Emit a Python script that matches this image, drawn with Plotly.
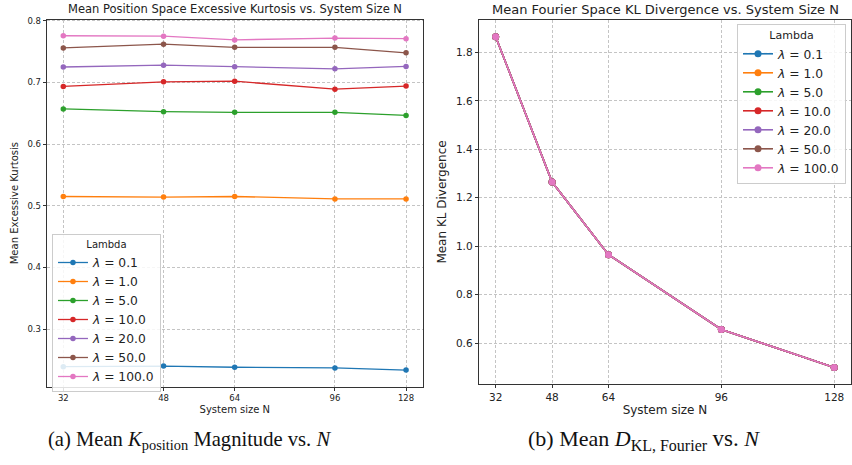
import plotly.graph_objects as go

N = [32, 48, 64, 96, 128]
lambdas = ["0.1", "1.0", "5.0", "10.0", "20.0", "50.0", "100.0"]
colors = ["#1f77b4", "#ff7f0e", "#2ca02c", "#d62728", "#9467bd", "#8c564b", "#e377c2"]

kurt_01 = [0.239, 0.240, 0.238, 0.237, 0.2335]
kurt_1 = [0.515, 0.514, 0.515, 0.511, 0.511]
kurt_5 = [0.657, 0.6525, 0.6515, 0.6515, 0.6465]
kurt_10 = [0.6935, 0.701, 0.702, 0.689, 0.694]
kurt_20 = [0.725, 0.728, 0.7255, 0.722, 0.726]
kurt_50 = [0.756, 0.762, 0.757, 0.757, 0.748]
kurt_100 = [0.7757, 0.775, 0.769, 0.772, 0.771]
kurtosis = [kurt_01, kurt_1, kurt_5, kurt_10, kurt_20, kurt_50, kurt_100]

kl_01 = [1.865, 1.265, 0.965, 0.656, 0.499]
kl_1 = [1.865, 1.265, 0.965, 0.656, 0.499]
kl_5 = [1.865, 1.265, 0.965, 0.656, 0.499]
kl_10 = [1.865, 1.265, 0.965, 0.656, 0.499]
kl_20 = [1.865, 1.265, 0.965, 0.656, 0.499]
kl_50 = [1.865, 1.265, 0.965, 0.656, 0.499]
kl_100 = [1.865, 1.265, 0.965, 0.656, 0.499]
kl = [kl_01, kl_1, kl_5, kl_10, kl_20, kl_50, kl_100]

xticks = [32, 48, 64, 96, 128]
left_yticks = [0.3, 0.4, 0.5, 0.6, 0.7, 0.8]
right_yticks = [0.6, 0.8, 1.0, 1.2, 1.4, 1.6, 1.8]

FONT = "DejaVu Sans"
fig = go.Figure()

for lam, c, ys in zip(lambdas, colors, kurtosis):
    fig.add_trace(go.Scatter(
        x=N, y=ys, mode="lines+markers", name=f"<i>λ</i> = {lam}",
        line=dict(color=c, width=1.3), marker=dict(color=c, size=5.5),
        xaxis="x", yaxis="y", legend="legend"))

for lam, c, ys in zip(lambdas, colors, kl):
    fig.add_trace(go.Scatter(
        x=N, y=ys, mode="lines+markers", name=f"<i>λ</i> = {lam}",
        line=dict(color=c, width=1.6), marker=dict(color=c, size=7),
        xaxis="x2", yaxis="y2", legend="legend2"))

axis_common = dict(showline=True, mirror=True, linecolor="#333", linewidth=1,
                   showgrid=True, gridcolor="#c4c4c4", griddash="3px,2px", gridwidth=0.8,
                   ticks="outside", ticklen=3, tickcolor="#333", zeroline=False,
                   automargin=False)

fig.update_layout(
    width=852, height=465, margin=dict(l=0, r=0, t=0, b=0, autoexpand=False),
    paper_bgcolor="white", plot_bgcolor="white",
    font=dict(family=FONT, color="#222"),
    xaxis=dict(domain=[0.0548, 0.4965], type="log", range=[1.476, 2.137],
               tickvals=xticks, ticktext=[str(v) for v in xticks],
               tickfont=dict(size=8.5),
               title=dict(text="System size N", font=dict(size=10), standoff=4),
               anchor="y", **axis_common),
    yaxis=dict(domain=[0.1684, 0.958], range=[0.2065, 0.802],
               tickvals=left_yticks, ticktext=[f"{v:.1f}" for v in left_yticks],
               tickfont=dict(size=8.5),
               title=dict(text="Mean Excessive Kurtosis", font=dict(size=10), standoff=6),
               anchor="x", **axis_common),
    xaxis2=dict(domain=[0.5619, 0.999], range=[27.2, 132.8],
                tickvals=xticks, ticktext=[str(v) for v in xticks],
                tickfont=dict(size=10.5),
                title=dict(text="System size N", font=dict(size=12), standoff=4),
                anchor="y2", **axis_common),
    yaxis2=dict(domain=[0.1742, 0.957], range=[0.431, 1.934],
                tickvals=right_yticks, ticktext=[f"{v:.1f}" for v in right_yticks],
                tickfont=dict(size=10.5),
                title=dict(text="Mean KL Divergence", font=dict(size=12), standoff=6),
                anchor="x2", **axis_common),
    legend=dict(x=0.061, y=1 - 234 / 465, xanchor="left", yanchor="top",
                bgcolor="rgba(255,255,255,0.85)", bordercolor="#ccc", borderwidth=1,
                font=dict(size=12.3), title=dict(text="Lambda", side="top center", font=dict(size=10)),
                itemwidth=30, tracegroupgap=0),
    legend2=dict(x=846 / 852, y=1 - 24 / 465, xanchor="right", yanchor="top",
                 bgcolor="rgba(255,255,255,0.85)", bordercolor="#ccc", borderwidth=1,
                 font=dict(size=12.3), title=dict(text="Lambda", side="top center", font=dict(size=11)),
                 itemwidth=30, tracegroupgap=0),
    showlegend=True,
)

annotations = [
    dict(text="Mean Position Space Excessive Kurtosis vs. System Size N", x=235, y=9,
         font=dict(size=11.5, family=FONT, color="#222")),
    dict(text="Mean Fourier Space KL Divergence vs. System Size N", x=665, y=9,
         font=dict(size=13, family=FONT, color="#222")),
    dict(text="(a) Mean <i>K</i><sub>position</sub> Magnitude vs. <i>N</i>", x=189, y=440,
         font=dict(size=20.6, family="Liberation Serif", color="#111")),
    dict(text="(b) Mean <i>D</i><sub><span style='font-size:16px'>KL, Fourier</span></sub> "
              "<span style='font-size:23px'>vs.</span> <i>N</i>", x=644, y=440,
         font=dict(size=22, family="Liberation Serif", color="#111")),
]
for a in annotations:
    fig.add_annotation(text=a["text"], x=a["x"] / 852, y=1 - a["y"] / 465,
                       xref="paper", yref="paper", xanchor="center", yanchor="middle",
                       showarrow=False, font=a["font"])

fig.write_html("out.html", config={"displayModeBar": False},
               post_script="document.body.style.margin='0';document.body.style.overflow='hidden';")
